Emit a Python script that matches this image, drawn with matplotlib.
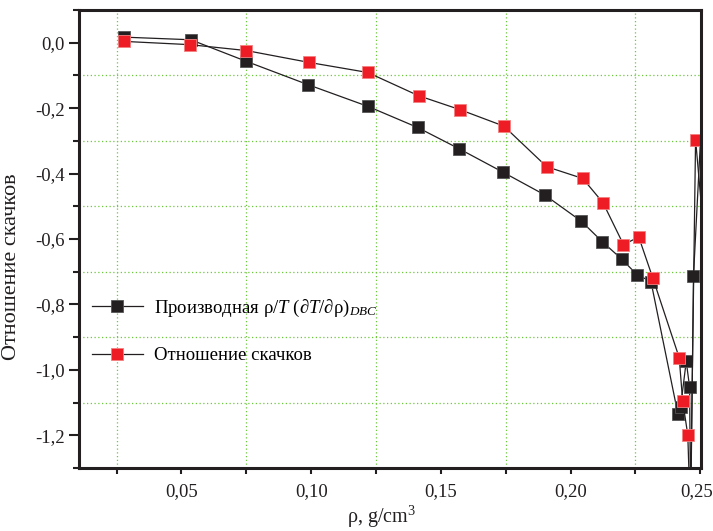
import matplotlib
matplotlib.use("Agg")
import matplotlib.pyplot as plt
import matplotlib.transforms as mtransforms
from matplotlib.ticker import MultipleLocator, FuncFormatter

# --- data ---
rho_deriv = [0.0278, 0.0536, 0.0750, 0.0987, 0.1220, 0.1410, 0.1570, 0.1740,
             0.1900, 0.2042, 0.2122, 0.2198, 0.2256, 0.2310, 0.2414, 0.2424,
             0.2446, 0.2459, 0.2463, 0.2474, 0.2540]
deriv = [0.017, 0.009, -0.057, -0.128, -0.195, -0.259, -0.324, -0.396,
         -0.465, -0.546, -0.608, -0.662, -0.709, -0.730, -1.135, -1.115,
         -0.974, -1.053, -1.450, -0.712, 0.300]

rho_jump = [0.0278, 0.0533, 0.0750, 0.0990, 0.1218, 0.1414, 0.1575, 0.1743,
            0.1908, 0.2047, 0.2125, 0.2204, 0.2263, 0.2317, 0.2419, 0.2432,
            0.2452, 0.2462, 0.2482, 0.2560]
jump = [0.004, -0.006, -0.024, -0.060, -0.091, -0.162, -0.205, -0.255,
        -0.379, -0.415, -0.489, -0.617, -0.594, -0.719, -0.963, -1.094,
        -1.199, -1.450, -0.296, -1.000]

label_deriv = "Производная ρ/$T$ (∂$T$/∂ρ)$_{DBC}$"
label_jump = "Отношение скачков"

plt.rcParams["font.family"] = ["Liberation Serif", "DejaVu Serif"]
plt.rcParams["mathtext.fontset"] = "custom"
plt.rcParams["mathtext.rm"] = "Liberation Serif"
plt.rcParams["mathtext.it"] = "Liberation Serif:italic"

dark = "#231f20"
fig = plt.figure(figsize=(7.13, 5.31), dpi=100)
ax = fig.add_axes([0.1108, 0.1186, 0.8724, 0.8626])

ax.plot(rho_deriv, deriv, color=dark, lw=0.9, marker="s", ms=8,
        mfc=dark, mec="#555555", mew=0.6, label=label_deriv)
ax.plot(rho_jump, jump, color=dark, lw=0.9, marker="s", ms=8,
        mfc="#ee1c24", mec="#f58080", mew=0.6, label=label_jump)

ax.set_xlim(0.0105, 0.2503)
ax.set_ylim(-1.3, 0.1)

ax.xaxis.set_major_locator(MultipleLocator(0.05))
ax.xaxis.set_minor_locator(MultipleLocator(0.025))
ax.yaxis.set_major_locator(MultipleLocator(0.2))
ax.yaxis.set_minor_locator(MultipleLocator(0.1))
ax.xaxis.set_major_formatter(FuncFormatter(lambda v, p: f"{v:.2f}".replace(".", ",")))
ax.yaxis.set_major_formatter(FuncFormatter(lambda v, p: f"{v:.1f}".replace(".", ",").replace("-0,0", "0,0")))

ax.grid(True, which="minor", color="#6cc93c", linestyle=(0, (1, 2)), lw=0.9)
ax.set_axisbelow(True)

ax.tick_params(axis="both", which="both", direction="out", colors=dark,
               labelsize=13.5, width=1.5, top=False, right=False)
ax.tick_params(axis="y", which="major", length=7)
ax.tick_params(axis="y", which="minor", length=4.5)
ax.tick_params(axis="x", which="both", length=4.5, pad=6)

for s in ax.spines.values():
    s.set_color(dark)
    s.set_linewidth(2.2)

ax.set_xlabel("ρ, g/cm$^3$", fontsize=14.5, color=dark)
ax.xaxis.set_label_coords(0.486, -0.078)
ax.set_ylabel("Отношение скачков", fontsize=16, color=dark)
ax.yaxis.set_label_coords(-0.093, 0.44)

ax.legend(loc="upper left", bbox_to_anchor=(0.0, 0.40), frameon=False,
          fontsize=13.5, handlelength=2.7, handletextpad=0.6, labelspacing=1.5,
          borderaxespad=0.3)

fig.canvas.draw()
# nudge the last x tick label inside the canvas, as in the source
last = [t for t in ax.get_xticklabels() if t.get_text() == "0,25"]
for t in last:
    t.set_transform(t.get_transform() + mtransforms.ScaledTranslation(-4 / 100, 0, fig.dpi_scale_trans))

fig.savefig("out.png", dpi=100)
